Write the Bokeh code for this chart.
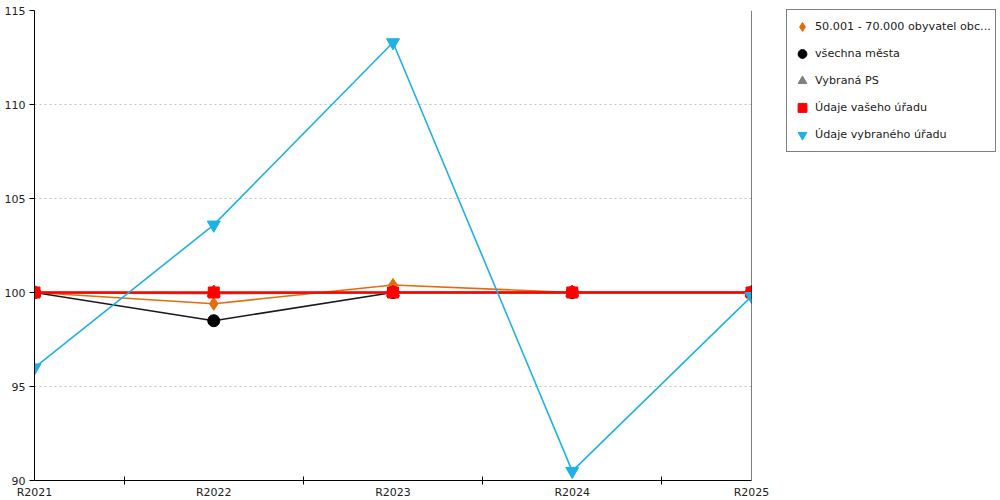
from bokeh.embed import file_html
from bokeh.resources import INLINE
from bokeh.models import FixedTicker, Range1d, Span, Legend, LegendItem
from bokeh.plotting import figure

# data
years = ["R2021", "R2022", "R2023", "R2024", "R2025"]
obce_50_70 = [100, 99.4, 100.4, 100, 100]
vsechna_mesta = [100, 98.5, 100, 100, 100]
vybrana_ps = [100, 99.95, 100, 100, 100]
vas_urad = [100, 100, 100, 100, 100]
vybrany_urad = [96, 103.6, 113.3, 90.5, 99.8]

y_ticks = [90, 95, 100, 105, 110, 115]

FONT = "DejaVu Sans"
x = list(range(len(years)))

p = figure(frame_width=717, frame_height=470,
           x_range=Range1d(0, len(years) - 1), y_range=Range1d(90, 115),
           output_backend="svg", toolbar_location=None,
           min_border_left=34, min_border_right=249,
           min_border_top=10, min_border_bottom=20)
p.outline_line_color = None
p.background_fill_color = "white"
p.border_fill_color = "white"

# x axis: labels on the years, ticks between them
p.xaxis.ticker = FixedTicker(ticks=x, minor_ticks=[i + 0.5 for i in x[:-1]])
p.xaxis.major_label_overrides = {i: y for i, y in enumerate(years)}
p.xaxis.major_tick_in = 0
p.xaxis.major_tick_out = 0
p.xaxis.minor_tick_in = 4
p.xaxis.minor_tick_out = 4
p.xaxis.major_label_standoff = 1

p.yaxis.ticker = FixedTicker(ticks=y_ticks)
p.yaxis.major_tick_in = 0
p.yaxis.major_tick_out = 5
p.yaxis.minor_tick_line_color = None
p.yaxis.major_label_standoff = 4

for ax in (p.xaxis, p.yaxis):
    ax.axis_line_color = "black"
    ax.major_tick_line_color = "black"
    ax.major_label_text_font = FONT
    ax.major_label_text_font_size = "11px"
    ax.major_label_text_color = "#222222"
p.xaxis.minor_tick_line_color = "black"

p.xgrid.grid_line_color = None
p.ygrid.grid_line_color = "#c0c0c0"
p.ygrid.grid_line_dash = "2 3"

p.add_layout(Span(location=len(years) - 1, dimension="height",
                  line_color="black", line_width=1))

# series
orange = "#e46c0a"
blue = "#1eb1e6"

l1 = p.line(x, obce_50_70, line_color=orange, line_width=1.6)
m1 = p.scatter(x, obce_50_70, marker="diamond", size=13, color=orange)

l2 = p.line(x, vsechna_mesta, line_color="#1a1a1a", line_width=1.6)
m2 = p.scatter(x, vsechna_mesta, marker="circle", size=12, color="black")

l3 = p.line(x, vybrana_ps, line_color="#808080", line_width=2)
m3 = p.scatter(x, vybrana_ps, marker="triangle", size=12, color="#808080")

l4 = p.line(x, vas_urad, line_color="red", line_width=2.5)
m4a = p.scatter(x, vas_urad, marker="square", size=11, color="red")
m4b = p.scatter(x, vas_urad, marker="triangle", size=13, color="red")

l5 = p.line(x, vybrany_urad, line_color=blue, line_width=1.6)
m5 = p.scatter(x, vybrany_urad, marker="inverted_triangle", size=13, color=blue)

legend = Legend(items=[
    LegendItem(label="50.001 - 70.000 obyvatel obc...", renderers=[m1]),
    LegendItem(label="všechna města", renderers=[m2]),
    LegendItem(label="Vybraná PS", renderers=[m3]),
    LegendItem(label="Údaje vašeho úřadu", renderers=[m4a, m4b]),
    LegendItem(label="Údaje vybraného úřadu", renderers=[m5]),
], location=(35, 328))
legend.border_line_color = "black"
legend.border_line_width = 1
legend.background_fill_color = "white"
legend.background_fill_alpha = 1
legend.label_text_font = FONT
legend.label_text_font_size = "11.2px"
legend.label_text_color = "#222222"
legend.glyph_width = 22
legend.glyph_height = 25
legend.spacing = 2
legend.padding = 4
legend.label_standoff = 2
legend.margin = 0
p.add_layout(legend, "right")

open("out.html", "w").write(file_html(p, INLINE))
